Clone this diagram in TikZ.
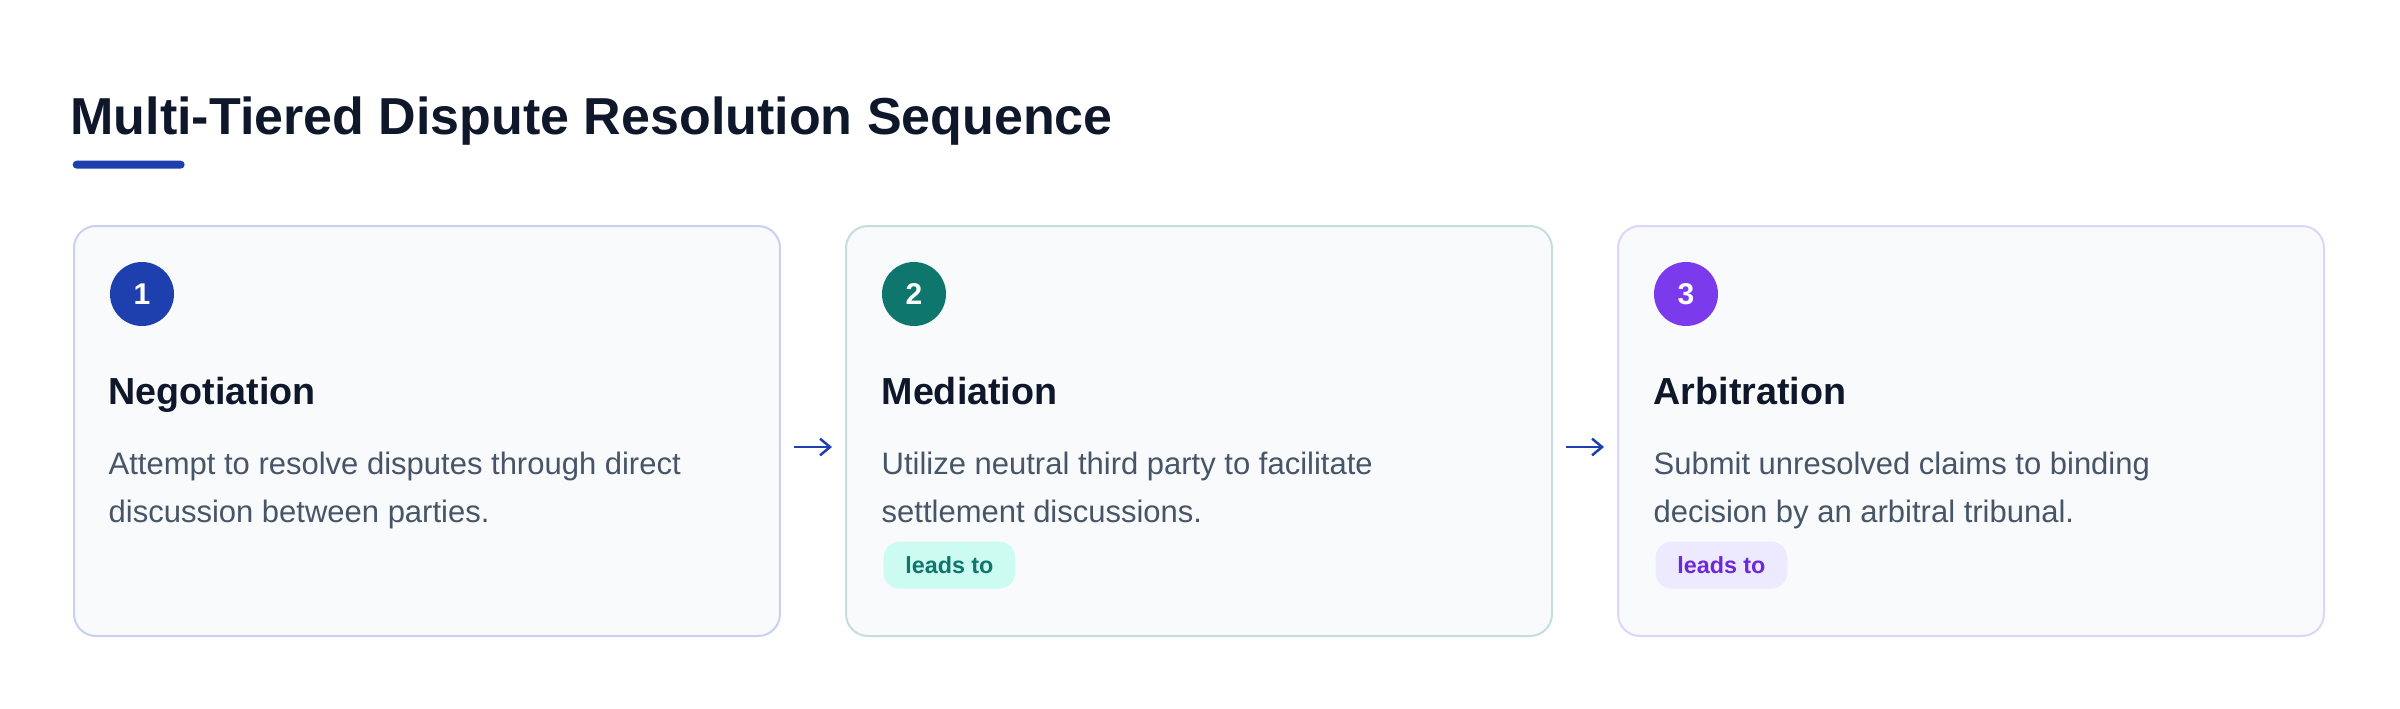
\documentclass[tikz,border=0pt]{standalone}
\usepackage{fontspec}
\setmainfont{Liberation Sans}
\usetikzlibrary{arrows.meta}

\definecolor{ink}{HTML}{0F172A}
\definecolor{slate}{HTML}{475569}
\definecolor{cardbg}{HTML}{F8FAFC}
\definecolor{blueA}{HTML}{1E40AF}
\definecolor{tealA}{HTML}{0F766E}
\definecolor{violetA}{HTML}{7C3AED}
\definecolor{blueL}{HTML}{C9D1F0}
\definecolor{tealL}{HTML}{C4DFDB}
\definecolor{violetL}{HTML}{DDD5FB}
\definecolor{tealP}{HTML}{CCFBF1}
\definecolor{violetP}{HTML}{EDE9FE}
\definecolor{violetT}{HTML}{6D28D9}

\tikzset{
  card/.style={draw=#1, line width=0.6pt, fill=cardbg, rounded corners=6.6pt, minimum width=211.8pt, minimum height=123pt, anchor=north west, inner sep=0pt},
  badge/.style={circle, fill=#1, minimum size=19.2pt, inner sep=0pt, text=white, font=\fontsize{9}{9}\selectfont\bfseries},
  heading/.style={anchor=base west, inner sep=0pt, text=ink, font=\fontsize{11.3}{13}\selectfont\bfseries},
  desc/.style={anchor=base west, inner sep=0pt, text=slate, align=left, font=\fontsize{9.3}{14.4}\selectfont},
  pill/.style={anchor=north west, fill=#1, rounded corners=4.8pt, minimum height=14.1pt, inner xsep=6.5pt, inner ysep=0pt, font=\fontsize{7}{7}\selectfont\bfseries},
  flow/.style={draw=blueA, line width=0.75pt, -{Straight Barb[length=3pt,width=5pt]}, shorten <=3.9pt, shorten >=3.9pt}
}

\begin{document}
\begin{tikzpicture}[x=0.3pt, y=-0.3pt]
\useasboundingbox[fill=white] (0,0) rectangle (2400,708);

% title
\node[anchor=base west, inner sep=0pt, text=ink, font=\fontsize{15.6}{18}\selectfont\bfseries] (title) at (70,134) {Multi-Tiered Dispute Resolution Sequence};
\node[anchor=north west, fill=blueA, rounded corners=1.2pt, minimum width=33.6pt, minimum height=2.4pt, inner sep=0pt] (bar) at (72,160) {};

% stage 1
\node[card=blueL] (c1) at (73,225) {};
\node[badge=blueA] (n1) at (142,294) {1};
\node[heading] (h1) at (108,404) {Negotiation};
\node[desc] (d1) at (108,522) {Attempt to resolve disputes through direct\\discussion between parties.};

% stage 2
\node[card=tealL] (c2) at (845,225) {};
\node[badge=tealA] (n2) at (914,294) {2};
\node[heading] (h2) at (881,404) {Mediation};
\node[desc] (d2) at (881,522) {Utilize neutral third party to facilitate\\settlement discussions.};
\node[pill=tealP, text=tealA] (p2) at (883,541) {leads to};

% stage 3
\node[card=violetL] (c3) at (1617,225) {};
\node[badge=violetA] (n3) at (1686,294) {3};
\node[heading] (h3) at (1653,404) {Arbitration};
\node[desc] (d3) at (1653,522) {Submit unresolved claims to binding\\decision by an arbitral tribunal.};
\node[pill=violetP, text=violetT] (p3) at (1655,541) {leads to};

% arrows between stages
\coordinate (lane) at (0,447);
\draw[flow] (c1.east |- lane) -- (c2.west |- lane);
\draw[flow] (c2.east |- lane) -- (c3.west |- lane);
\end{tikzpicture}
\end{document}
